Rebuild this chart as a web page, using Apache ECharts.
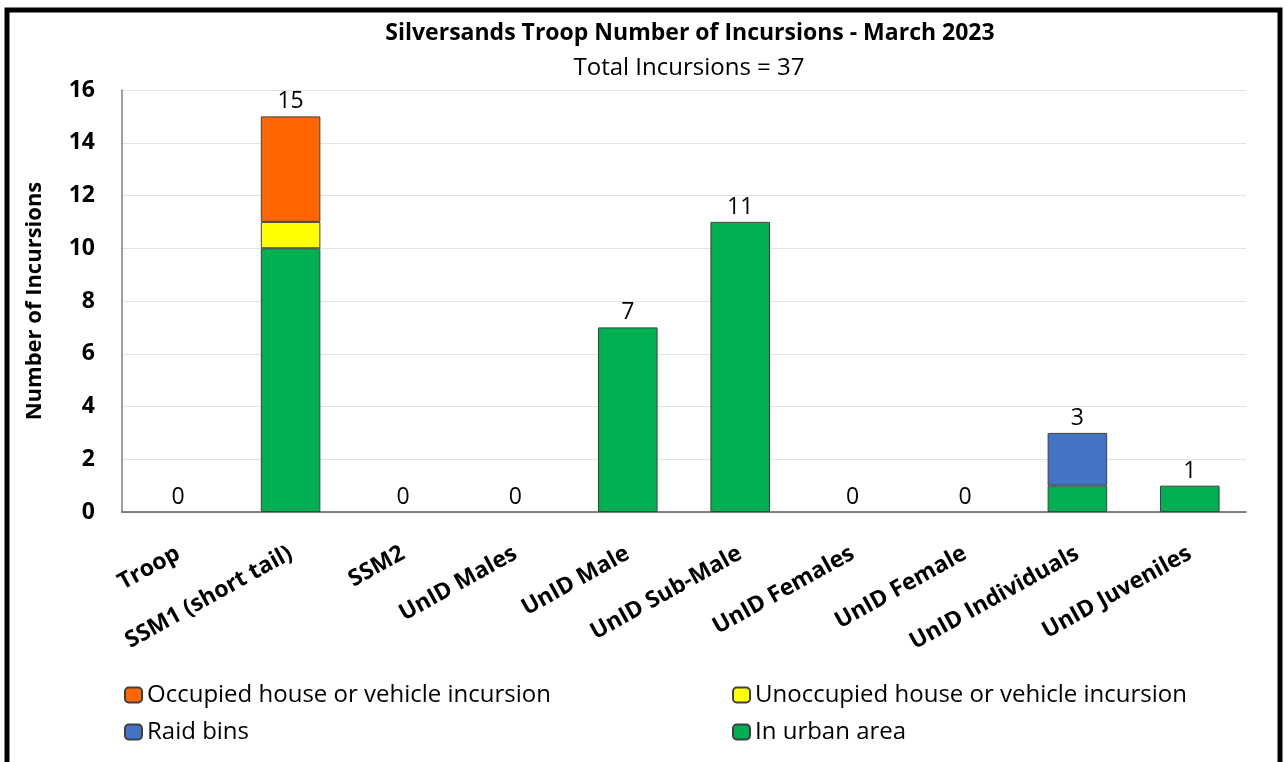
<!DOCTYPE html>
<html>
<head>
<meta charset="utf-8">
<script src="https://cdn.jsdelivr.net/npm/echarts@6/dist/echarts.min.js"></script>
<style>
  html, body { margin: 0; padding: 0; background: #fff; }
  #chart { width: 1286px; height: 762px; }
</style>
</head>
<body>
<div id="chart"></div>
<script>
var categories = ['Troop', 'SSM1 (short tail)', 'SSM2', 'UnID Males', 'UnID Male',
  'UnID Sub-Male', 'UnID Females', 'UnID Female', 'UnID Individuals', 'UnID Juveniles'];

var urbanArea = [0, 10, 0, 0, 7, 11, 0, 0, 1, 1];
var raidBins = [0, 0, 0, 0, 0, 0, 0, 0, 2, 0];
var unoccupied = [0, 1, 0, 0, 0, 0, 0, 0, 0, 0];
var occupied = [0, 4, 0, 0, 0, 0, 0, 0, 0, 0];

var yTicks = [0, 2, 4, 6, 8, 10, 12, 14, 16];

var totals = categories.map(function (c, i) {
  return urbanArea[i] + raidBins[i] + unoccupied[i] + occupied[i];
});

var font = '"Open Sans", Lato, sans-serif';

// empty segments should not leave a border line on the axis
function noZero(arr) {
  return arr.map(function (v) { return v === 0 ? '-' : v; });
}

function barSeries(name, data, color) {
  return {
    name: name,
    type: 'bar',
    stack: 'total',
    barWidth: '53%',
    data: noZero(data),
    itemStyle: { color: color, borderColor: '#404040', borderWidth: 1 }
  };
}

var legendText = { fontFamily: font, fontSize: 24, color: '#000' };

var option = {
  animation: false,
  backgroundColor: '#fff',
  title: [
    {
      text: 'Silversands Troop Number of Incursions - March 2023',
      left: 685,
      textAlign: 'center',
      top: 17,
      textStyle: { fontFamily: font, fontSize: 23, fontWeight: 'bold', color: '#000' }
    },
    {
      text: 'Total Incursions = 37',
      left: 684,
      textAlign: 'center',
      top: 51,
      textStyle: { fontFamily: font, fontSize: 24, fontWeight: 'normal', color: '#000' }
    }
  ],
  graphic: [{
    type: 'rect',
    shape: { x: 7, y: 10, width: 1273, height: 800 },
    style: { fill: 'none', stroke: '#000', lineWidth: 5 },
    silent: true
  }],
  legend: [
    {
      data: ['Occupied house or vehicle incursion', 'Raid bins'],
      orient: 'vertical',
      left: 119,
      top: 678,
      itemWidth: 17,
      itemHeight: 15,
      itemGap: 13,
      textStyle: legendText
    },
    {
      data: ['Unoccupied house or vehicle incursion', 'In urban area'],
      orient: 'vertical',
      left: 727,
      top: 678,
      itemWidth: 17,
      itemHeight: 15,
      itemGap: 13,
      textStyle: legendText
    }
  ],
  grid: { left: 122, right: 40, top: 90, bottom: 250 },
  xAxis: {
    type: 'category',
    data: categories,
    axisLine: { lineStyle: { color: '#595959', width: 1.5 } },
    axisTick: { show: false },
    axisLabel: {
      interval: 0,
      rotate: 29,
      margin: 40,
      fontFamily: font,
      fontSize: 23,
      fontWeight: 'bold',
      color: '#000'
    }
  },
  yAxis: {
    type: 'value',
    min: yTicks[0],
    max: yTicks[yTicks.length - 1],
    interval: 2,
    name: 'Number of Incursions',
    nameLocation: 'middle',
    nameGap: 76,
    nameTextStyle: { fontFamily: font, fontSize: 22, fontWeight: 'bold', color: '#000' },
    axisLine: { show: true, lineStyle: { color: '#808080', width: 1.5 } },
    axisTick: { show: false },
    splitLine: { lineStyle: { color: '#e3e3e3', width: 1 } },
    axisLabel: {
      margin: 27,
      fontFamily: font,
      fontSize: 23,
      fontWeight: 'bold',
      color: '#000'
    }
  },
  series: [
    barSeries('In urban area', urbanArea, '#00b050'),
    barSeries('Raid bins', raidBins, '#4472c4'),
    barSeries('Unoccupied house or vehicle incursion', unoccupied, '#ffff00'),
    barSeries('Occupied house or vehicle incursion', occupied, '#ff6600'),
    {
      name: 'Total',
      type: 'bar',
      stack: 'total',
      barWidth: '53%',
      data: totals.map(function () { return 0; }),
      itemStyle: { color: 'transparent', borderWidth: 0 },
      label: {
        show: true,
        position: 'top',
        distance: 3,
        fontFamily: font,
        fontSize: 23,
        color: '#000',
        formatter: function (p) { return totals[p.dataIndex]; }
      }
    }
  ]
};

var chart = echarts.init(document.getElementById('chart'));
chart.setOption(option);
</script>
</body>
</html>
